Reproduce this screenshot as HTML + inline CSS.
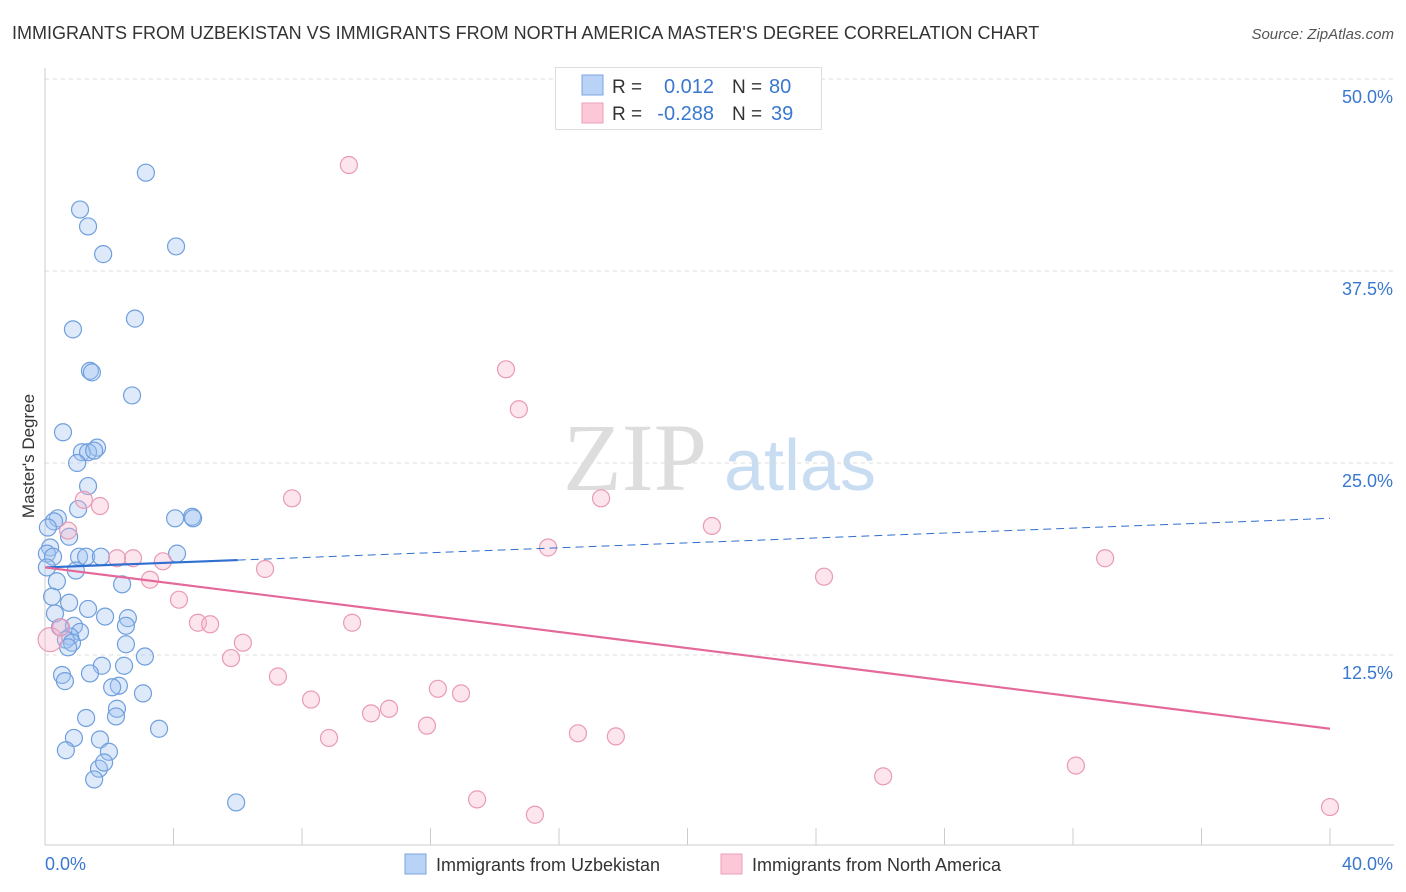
<!DOCTYPE html>
<html><head><meta charset="utf-8"><style>
body{margin:0;background:#fff;font-family:"Liberation Sans",sans-serif}
svg{display:block}
</style></head><body>
<svg id="c" width="1406" height="892" xmlns="http://www.w3.org/2000/svg">
<text x="12" y="39" font-size="18" fill="#333">IMMIGRANTS FROM UZBEKISTAN VS IMMIGRANTS FROM NORTH AMERICA MASTER'S DEGREE CORRELATION CHART</text>
<text x="1394" y="39" font-size="15" fill="#555" font-style="italic" text-anchor="end">Source: ZipAtlas.com</text>
<text x="34" y="456" font-size="17" fill="#333" text-anchor="middle" transform="rotate(-90 34 456)">Master's Degree</text>
<g><text x="635" y="490" font-size="96" font-family="Liberation Serif,serif" fill="#ddd" text-anchor="middle">ZIP</text><text x="800" y="490" font-size="72" fill="#c8dcf2" text-anchor="middle">atlas</text></g>
<g id="grid"></g><g id="axes"></g><g id="pts"></g><g id="trend"></g>
<g>
<rect x="555.5" y="67.5" width="266" height="62" fill="#fff" stroke="#ddd"/>
<rect x="582" y="75" width="21" height="20" fill="#b9d2f5" stroke="#7aa6e0"/>
<rect x="582" y="103" width="21" height="20" fill="#fcc8d8" stroke="#eba1ba"/>
<text x="612" y="93" font-size="19" fill="#333">R = </text><text x="714" y="93" font-size="20" fill="#3a78d0" text-anchor="end">0.012</text>
<text x="732" y="93" font-size="19" fill="#333">N = </text><text x="769" y="93" font-size="20" fill="#3a78d0">80</text>
<text x="612" y="120" font-size="19" fill="#333">R = </text><text x="714" y="120" font-size="20" fill="#3a78d0" text-anchor="end">-0.288</text>
<text x="732" y="120" font-size="19" fill="#333">N = </text><text x="771" y="120" font-size="20" fill="#3a78d0">39</text>
</g>
<g>
<rect x="405" y="854" width="21" height="20" fill="#b9d2f5" stroke="#7aa6e0"/>
<text x="436" y="871" font-size="18" fill="#333">Immigrants from Uzbekistan</text>
<rect x="721" y="854" width="21" height="20" fill="#fcc8d8" stroke="#eba1ba"/>
<text x="752" y="871" font-size="18" fill="#333">Immigrants from North America</text>
</g>
</svg>
<script>
const blueX=[3.14,1.09,1.34,1.81,4.08,0.87,2.80,1.40,1.46,2.71,0.56,1.62,1.15,1.34,1.53,1.00,1.34,1.03,0.40,0.28,0.09,4.05,4.58,4.61,0.75,0.16,0.06,0.25,1.06,1.28,1.74,4.11,0.06,0.96,0.37,2.40,0.22,0.75,1.34,0.31,1.87,2.58,0.47,0.90,2.52,1.09,0.78,0.65,0.84,2.52,0.72,3.11,2.46,1.77,1.40,0.53,0.62,2.30,2.09,3.05,2.24,1.28,2.21,3.55,0.90,1.71,0.65,1.99,1.68,1.84,1.53,5.95];
const blueY=[43.9,41.5,40.4,38.6,39.1,33.7,34.4,31.0,30.9,29.4,27.0,26.0,25.7,25.7,25.8,25.0,23.5,22.0,21.4,21.2,20.8,21.4,21.5,21.4,20.2,19.5,19.1,18.9,18.9,18.9,18.9,19.1,18.2,18.0,17.3,17.1,16.3,15.9,15.5,15.2,15.0,14.9,14.3,14.4,14.4,14.0,13.7,13.5,13.3,13.2,13.0,12.4,11.8,11.8,11.3,11.2,10.8,10.5,10.4,10.0,9.0,8.4,8.5,7.7,7.1,7.0,6.3,6.2,5.1,5.5,4.4,2.9];
const pinkX=[9.46,14.35,14.75,7.69,17.31,20.76,1.21,1.71,0.72,15.66,2.24,2.74,3.67,6.85,3.27,24.25,33.0,4.17,4.76,5.14,9.56,6.16,5.79,7.25,8.28,12.23,12.95,10.71,10.15,11.89,8.84,16.59,17.77,26.09,32.09,13.45,15.25,40.0,0.16,0.5];
const pinkY=[44.4,31.1,28.5,22.7,22.7,20.9,22.6,22.2,20.6,19.5,18.8,18.8,18.6,18.1,17.4,17.6,18.8,16.1,14.6,14.5,14.6,13.3,12.3,11.1,9.6,10.3,10.0,9.0,8.7,7.9,7.1,7.4,7.2,4.6,5.3,3.1,2.1,2.6,13.5,14.3];
const yTicks=[12.5,25.0,37.5,50.0];
const xTickVals=[0,4,8,12,16,20,24,28,32,36,40];
const blueTrend=[18.2,21.4];
const pinkTrend=[18.2,7.7];
const NS="http://www.w3.org/2000/svg";
const X=v=>45+v*1285/40, Y=v=>847-v*192/12.5;
function mk(p,t,a){const e=document.createElementNS(NS,t);for(const k in a)e.setAttribute(k,a[k]);document.getElementById(p).appendChild(e);return e;}
yTicks.forEach(t=>{const g=mk('grid','line',{x1:45,x2:1394,y1:Y(t),y2:Y(t),stroke:'#ddd','stroke-dasharray':'4,4'});


const l=mk('grid','text',{x:1393,y:Y(t)+24,'font-size':18,fill:'#3a78d0','text-anchor':'end'});l.textContent=t.toFixed(1)+'%';

});
const ax=mk('axes','line',{x1:45,x2:45,y1:68,y2:845,stroke:'#ccc'});


const bx=mk('axes','line',{x1:45,x2:1394,y1:845,y2:845,stroke:'#ccc'});


xTickVals.forEach(t=>{const e=mk('axes','line',{x1:X(t),x2:X(t),y1:828,y2:845,stroke:'#ccc'});

});
[[0,'start',45],[40,'end',1393]].forEach(([v,a,x])=>{const l=mk('axes','text',{x:x,y:870,'font-size':18,fill:'#3a78d0','text-anchor':a});l.textContent=v.toFixed(1)+'%';

});
blueX.forEach((v,i)=>{const c=mk('pts','circle',{cx:X(v),cy:Y(blueY[i]),r:8.5,fill:'rgba(160,196,240,0.35)',stroke:'#6f9fdd','stroke-width':1.2});

});
pinkX.forEach((v,i)=>{const c=mk('pts','circle',{cx:X(v),cy:Y(pinkY[i]),r:i==38?12:8.5,fill:'rgba(245,180,200,0.35)',stroke:'#e99ab6','stroke-width':1.2});

});
const bs=v=>blueTrend[0]+(blueTrend[1]-blueTrend[0])*v/40;
const t1=mk('trend','line',{x1:X(0),y1:Y(bs(0)),x2:X(6),y2:Y(bs(6)),stroke:'#2f6fcf','stroke-width':2.2});


const t2=mk('trend','line',{x1:X(6),y1:Y(bs(6)),x2:X(40),y2:Y(bs(40)),stroke:'#2f6fcf','stroke-width':1,'stroke-dasharray':'8,5'});


const t3=mk('trend','line',{x1:X(0),y1:Y(pinkTrend[0]),x2:X(40),y2:Y(pinkTrend[1]),stroke:'#e4699a','stroke-width':2.2});


</script>
</body></html>
